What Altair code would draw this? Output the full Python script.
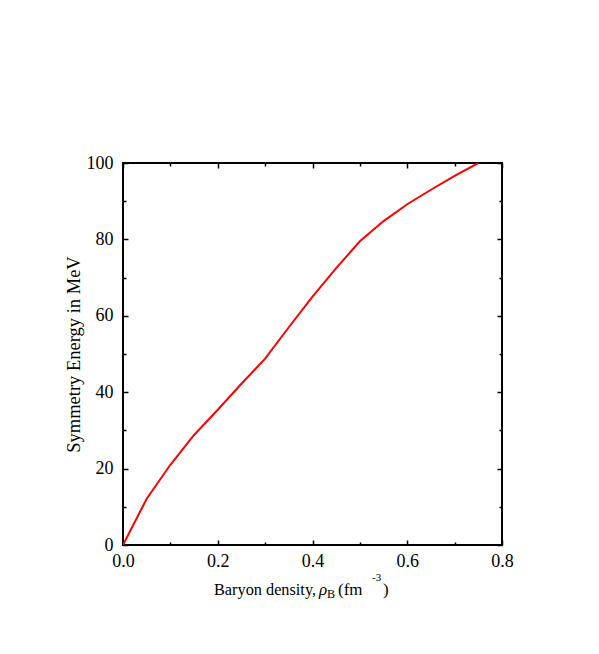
import altair as alt
import pandas as pd

density = [0.0, 0.05, 0.10, 0.15, 0.20, 0.25, 0.30, 0.35, 0.40, 0.45, 0.50, 0.55, 0.60, 0.65, 0.70, 0.75]
esym = [0.0, 12.1, 21.0, 28.8, 35.4, 42.2, 48.8, 57.0, 65.0, 72.5, 79.5, 84.8, 89.2, 93.0, 96.6, 100.0]

x_major = [0.0, 0.2, 0.4, 0.6, 0.8]
x_minor = [0.1, 0.3, 0.5, 0.7]
y_major = [0, 20, 40, 60, 80, 100]
y_minor = [10, 30, 50, 70, 90]

W, H = 379, 382
FONT = "Liberation Serif"

df = pd.DataFrame({"density": density, "esym": esym})
xs = alt.Scale(domain=[0, 0.8], nice=False, zero=False)
ys = alt.Scale(domain=[0, 100], nice=False, zero=False)
base = alt.Chart(df)

line = base.mark_line(color="#ff0000", strokeWidth=2, clip=True).encode(
    x=alt.X("density:Q", scale=xs, axis=alt.Axis(values=x_major, format=".1f", tickSize=0, domain=False,
                                                 grid=False, labelPadding=7, labelFlush=False, title=None)),
    y=alt.Y("esym:Q", scale=ys, axis=alt.Axis(values=y_major, format="d", tickSize=0, domain=False,
                                              grid=False, labelPadding=10, labelFlush=False,
                                              title="Symmetry Energy in MeV", titlePadding=3)),
)


def tick_layer(xvals, yvals, size, flip):
    xo, yo = ("top", "right") if not flip else ("bottom", "left")
    return base.mark_line(opacity=0).encode(
        x=alt.X("density:Q", scale=xs, axis=alt.Axis(orient=xo, offset=-H, values=xvals, labels=False,
                                                     tickSize=size, tickWidth=1.5, domain=False, grid=False,
                                                     title=None)),
        y=alt.Y("esym:Q", scale=ys, axis=alt.Axis(orient=yo, offset=-W, values=yvals, labels=False,
                                                  tickSize=size, tickWidth=1.5, domain=False, grid=False,
                                                  title=None)),
    )


t1 = tick_layer(x_major, y_major, 5, False)
t2 = tick_layer(x_major, y_major, 5, True)
t3 = tick_layer(x_minor, y_minor, 3, False)
t4 = tick_layer(x_minor, y_minor, 3, True)

title_parts = [
    ("Baryon density,", 91, 432, 16.3, "normal"),
    ("\u03c1", 196, 432, 17, "italic"),
    ("B", 204, 435, 12, "normal"),
    ("(fm", 215, 432, 17, "normal"),
    ("-3", 249, 418, 11, "normal"),
    (")", 260, 432, 17, "normal"),
]
title_layers = []
for txt, px, py, fs, style in title_parts:
    title_layers.append(
        alt.Chart(pd.DataFrame({"t": [txt]})).mark_text(
            font=FONT, fontSize=fs, fontStyle=style, align="left", baseline="alphabetic", color="black"
        ).encode(text="t:N", x=alt.value(px), y=alt.value(py))
    )

chart = alt.layer(line, t1, t2, t3, t4, *title_layers).resolve_axis(
    x="independent", y="independent"
).properties(
    width=W, height=H,
    autosize=alt.AutoSizeParams(type="none"),
    padding={"left": 115, "top": 155, "right": 80, "bottom": 90},
).configure_view(stroke="black", strokeWidth=2).configure_axis(
    labelFont=FONT, labelFontSize=18, labelColor="black", titleFont=FONT, titleFontSize=18.5,
    titleColor="black", titleFontWeight="normal", tickColor="black"
)

chart.save("out.html", embed_options={"renderer": "svg", "actions": False})
